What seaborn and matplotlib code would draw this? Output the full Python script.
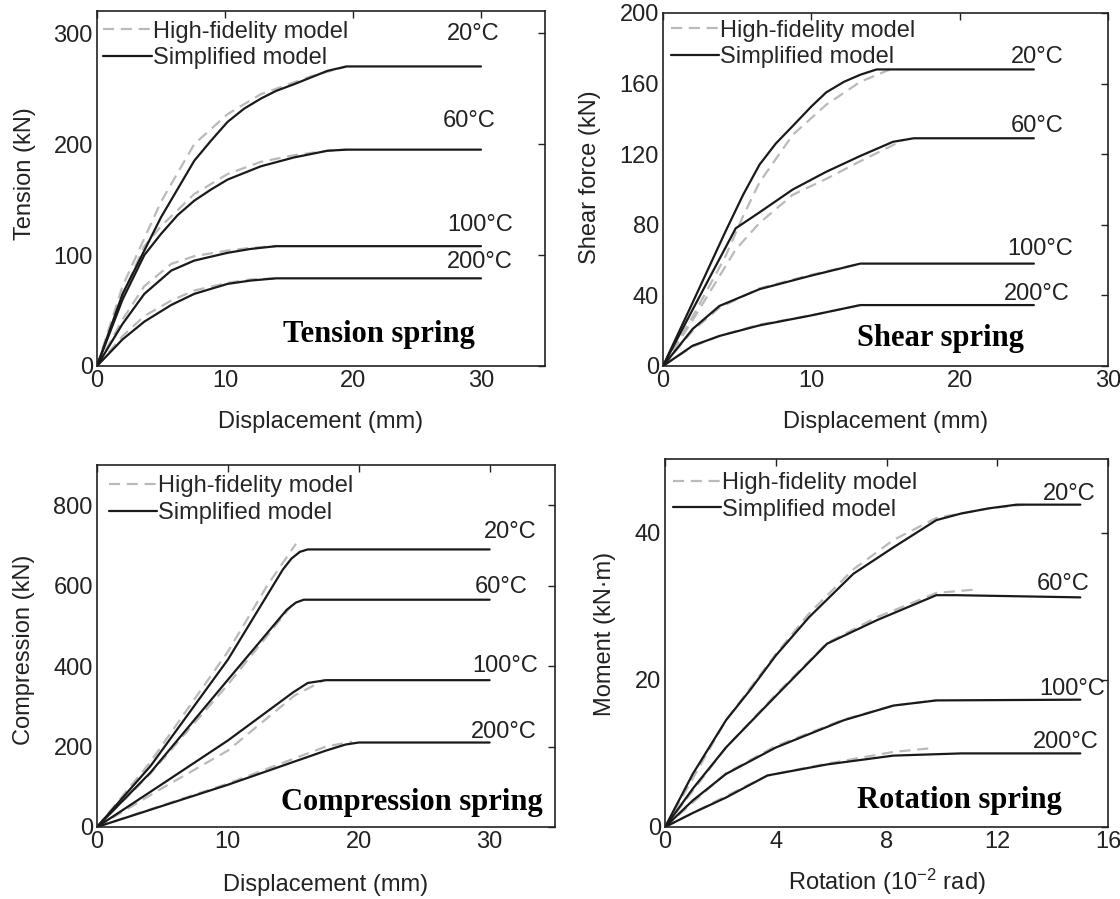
import matplotlib
matplotlib.use("Agg")
import matplotlib.pyplot as plt
from matplotlib.lines import Line2D
import pandas as pd
import seaborn as sns

# ---------------- data ----------------
temps = ["20°C", "60°C", "100°C", "200°C"]

# Tension spring (Displacement mm, Tension kN)
ten_sim_20_x = [0, 2, 5, 7.6, 8.9, 10.2, 11.5, 12.8, 14, 15.4, 16.7, 18, 19.5, 30]
ten_sim_20_y = [0, 65, 134, 185, 203, 220, 232, 241, 248, 254, 260, 266, 270, 270]
ten_hf_20_x = [0, 2, 5, 7.6, 10.2, 12.8, 16.7, 19.5]
ten_hf_20_y = [0, 72, 148, 200, 227, 245, 261, 270]
ten_sim_60_x = [0, 2, 3.7, 5, 6.3, 7.6, 8.9, 10.2, 12.8, 15.4, 18, 19.5, 30]
ten_sim_60_y = [0, 60, 100, 119, 136, 149, 159, 168, 180, 188, 194, 195, 195]
ten_hf_60_x = [0, 2, 3.7, 5, 7.6, 10.2, 12.8, 15.4, 18, 19.5]
ten_hf_60_y = [0, 64, 108, 126, 155, 173, 184, 190, 194, 195]
ten_sim_100_x = [0, 2, 3.7, 5.8, 7.6, 10.2, 12, 14, 30]
ten_sim_100_y = [0, 38, 65, 86, 95, 102, 105.5, 108, 108]
ten_hf_100_x = [0, 2, 3.7, 5.8, 7.6, 10.2, 12, 14]
ten_hf_100_y = [0, 42, 72, 92, 99, 104, 106.5, 108]
ten_sim_200_x = [0, 2, 3.7, 5.8, 7.6, 10.2, 12, 14, 30]
ten_sim_200_y = [0, 24, 40, 55, 65, 74, 77, 79, 79]
ten_hf_200_x = [0, 2, 3.7, 5.8, 7.6, 10.2, 12, 14]
ten_hf_200_y = [0, 27, 45, 59, 68, 75, 78, 79]

# Shear spring (Displacement mm, Shear force kN)
shr_sim_20_x = [0, 2, 4.2, 5.4, 6.5, 7.6, 8.75, 10, 11, 12.2, 13.3, 14.4, 25]
shr_sim_20_y = [0, 36, 76, 97, 114, 126, 136, 147, 155, 161, 165, 168, 168]
shr_hf_20_x = [0, 2, 4.2, 5.4, 6.5, 8.75, 11, 13.3, 15.3]
shr_hf_20_y = [0, 28, 62, 85, 104, 131, 148, 161, 168]
shr_sim_60_x = [0, 2, 4.9, 6.5, 8.75, 11, 13.3, 15.5, 16.9, 25]
shr_sim_60_y = [0, 32, 78, 87, 100, 110, 119, 127, 129, 129]
shr_hf_60_x = [0, 2, 4.9, 6.5, 8.75, 11, 13.3, 16.2]
shr_hf_60_y = [0, 26, 66, 81, 97, 106, 116, 128]
shr_sim_100_x = [0, 2, 3.8, 6.5, 9.9, 13.3, 25]
shr_sim_100_y = [0, 21, 34, 43.5, 51, 58, 58]
shr_hf_100_x = [0, 2, 3.8, 6.5, 9.9, 13.3]
shr_hf_100_y = [0, 20, 33, 44, 51.5, 58]
shr_sim_200_x = [0, 2, 3.8, 6.5, 9.9, 13.3, 25]
shr_sim_200_y = [0, 11.5, 17, 23, 28.5, 34.5, 34.5]
shr_hf_200_x = [0, 2, 3.8, 6.5, 9.9, 13.3]
shr_hf_200_y = [0, 11, 17, 23.5, 28.5, 34.5]

# Compression spring (Displacement mm, Compression kN)
cmp_sim_20_x = [0, 4.1, 10, 14.2, 14.85, 15.5, 16.1, 30]
cmp_sim_20_y = [0, 152, 416, 640, 667, 684, 690, 690]
cmp_hf_20_x = [0, 4, 10, 13, 15.2]
cmp_hf_20_y = [0, 158, 436, 600, 704]
cmp_sim_60_x = [0, 4.1, 10, 14.5, 15.2, 15.8, 30]
cmp_sim_60_y = [0, 136, 366, 540, 558, 565, 565]
cmp_hf_60_x = [0, 4, 10, 15.1]
cmp_hf_60_y = [0, 130, 354, 560]
cmp_sim_100_x = [0, 4.9, 10, 15, 16.1, 17.5, 30]
cmp_sim_100_y = [0, 105, 215, 335, 358, 365, 365]
cmp_hf_100_x = [0, 4.9, 10, 15.1, 17.4]
cmp_hf_100_y = [0, 95, 190, 327, 366]
cmp_sim_200_x = [0, 10, 17.5, 19, 20, 30]
cmp_sim_200_y = [0, 105, 190, 205, 210, 210]
cmp_hf_200_x = [0, 10, 17.5, 19.5]
cmp_hf_200_y = [0, 108, 200, 212]

# Rotation spring (Rotation 1e-2 rad, Moment kN·m)
rot_sim_20_x = [0, 1, 2.2, 3.07, 4, 5.2, 6.8, 8.25, 9.8, 10.7, 11.7, 12.7, 15]
rot_sim_20_y = [0, 7.2, 14.5, 18.6, 23.3, 28.5, 34.4, 38, 41.7, 42.6, 43.3, 43.8, 43.8]
rot_hf_20_x = [0, 2.2, 4, 5.2, 6.8, 8.25, 9.8, 11.7, 13]
rot_hf_20_y = [0, 14.5, 23.5, 29, 35, 39, 42, 43.3, 43.8]
rot_sim_60_x = [0, 1, 2.2, 4, 5.85, 7.65, 9.8, 10.5, 15]
rot_sim_60_y = [0, 5.2, 10.8, 17.8, 24.9, 28.1, 31.5, 31.5, 31.2]
rot_hf_60_x = [0, 2.2, 4, 5.85, 7.65, 9.8, 11.3]
rot_hf_60_y = [0, 10.8, 18, 25, 28.5, 31.8, 32.3]
rot_sim_100_x = [0, 1, 2.2, 4, 6.45, 8.25, 9.8, 15]
rot_sim_100_y = [0, 3.6, 7.2, 10.8, 14.5, 16.5, 17.2, 17.3]
rot_hf_100_x = [0, 2.2, 4, 6.45, 8.25, 9.8]
rot_hf_100_y = [0, 7.3, 11, 14.6, 16.5, 17.2]
rot_sim_200_x = [0, 1, 2.2, 3.7, 5.85, 8.25, 10.7, 15]
rot_sim_200_y = [0, 1.9, 4, 7, 8.5, 9.7, 10, 10]
rot_hf_200_x = [0, 2.2, 3.7, 5.85, 8.25, 9.6]
rot_hf_200_y = [0, 4.2, 7, 8.6, 10.2, 10.7]

# temperature label positions (data coords)
ten_lab_x = [29.4, 29.05, 29.9, 29.9]
ten_lab_y = [299, 221, 127, 94]
shr_lab_x = [25.2, 25.2, 25.4, 25.2]
shr_lab_y = [175, 135.7, 66.2, 40.7]
cmp_lab_x = [31.6, 30.9, 31.2, 31.05]
cmp_lab_y = [733, 597, 399, 235]
rot_lab_x = [14.58, 14.39, 14.71, 14.49]
rot_lab_y = [45.2, 33, 18.7, 11.5]

legend_labels = ["High-fidelity model", "Simplified model"]

# ---------------- style ----------------
sns.set_theme(style="white")
plt.rcParams['font.family'] = ['Liberation Sans', 'DejaVu Sans']
plt.rcParams['mathtext.fontset'] = 'custom'
plt.rcParams['mathtext.rm'] = 'Liberation Sans'
plt.rcParams['mathtext.it'] = 'Liberation Sans:italic'
plt.rcParams['mathtext.bf'] = 'Liberation Sans:bold'

GRAY = "#bababa"
BLACK = "#1a1a1a"
DASH = (0, (5, 3))
FS = 17
TXT = "#222222"

fig = plt.figure(figsize=(11.2, 8.99), dpi=100)


def long_df(xs, ys):
    rows = []
    for t, x, y in zip(temps, xs, ys):
        for xi, yi in zip(x, y):
            rows.append((t, xi, yi))
    return pd.DataFrame(rows, columns=["temp", "x", "y"])


def panel(rect, sim_x, sim_y, hf_x, hf_y, lab_x, lab_y, xlim, ylim, xticks, yticks,
          xlabel, ylabel, title, title_pos, ylab_pos, xlab_y, leg_pos):
    ax = fig.add_axes(rect)
    hf = long_df(hf_x, hf_y)
    sim = long_df(sim_x, sim_y)
    sns.lineplot(data=hf, x="x", y="y", units="temp", estimator=None, sort=False,
                 color=GRAY, lw=1.6, linestyle=DASH, ax=ax, legend=False)
    sns.lineplot(data=sim, x="x", y="y", units="temp", estimator=None, sort=False,
                 color=BLACK, lw=1.6, ax=ax, legend=False)
    ax.set_xlim(*xlim)
    ax.set_ylim(*ylim)
    ax.set_xticks(xticks)
    ax.set_yticks(yticks)
    ax.tick_params(direction="in", length=5, width=1, top=True, right=True,
                   labelsize=FS, pad=3, colors=TXT, labelcolor=TXT)
    for s in ax.spines.values():
        s.set_color(TXT)
        s.set_linewidth(1.2)
    ax.set_xlabel(xlabel, fontsize=FS, color=TXT)
    ax.set_ylabel(ylabel, fontsize=FS, color=TXT)
    ax.xaxis.set_label_coords(0.5, xlab_y)
    ax.xaxis.label.set_va("baseline")
    ax.yaxis.set_label_coords(ylab_pos[0], ylab_pos[1])
    ax.yaxis.label.set_va("center")
    for t, x, y in zip(temps, lab_x, lab_y):
        ax.text(x, y, t, ha="center", va="center", fontsize=FS, color=TXT)
    ax.text(title_pos[0], title_pos[1], title, transform=ax.transAxes, ha="right",
            va="baseline", fontsize=22, fontweight="bold", family="Liberation Serif",
            color="black")
    handles = [Line2D([], [], color=GRAY, lw=1.6, linestyle=DASH),
               Line2D([], [], color=BLACK, lw=1.6)]
    ax.legend(handles, legend_labels, loc="upper left", bbox_to_anchor=leg_pos,
              frameon=False, fontsize=FS, handlelength=2.05, handletextpad=0.05,
              borderaxespad=0, borderpad=0, labelspacing=0.19)
    return ax


panel([0.0866, 0.5929, 0.400, 0.3949],
      [ten_sim_20_x, ten_sim_60_x, ten_sim_100_x, ten_sim_200_x],
      [ten_sim_20_y, ten_sim_60_y, ten_sim_100_y, ten_sim_200_y],
      [ten_hf_20_x, ten_hf_60_x, ten_hf_100_x, ten_hf_200_x],
      [ten_hf_20_y, ten_hf_60_y, ten_hf_100_y, ten_hf_200_y],
      ten_lab_x, ten_lab_y, (0, 35), (0, 320), [0, 10, 20, 30], [0, 100, 200, 300],
      "Displacement (mm)", "Tension (kN)", "Tension spring", (0.844, 0.068),
      (-0.161, 0.542), -0.176, (0.0144, 0.973))

panel([0.592, 0.5929, 0.3973, 0.3927],
      [shr_sim_20_x, shr_sim_60_x, shr_sim_100_x, shr_sim_200_x],
      [shr_sim_20_y, shr_sim_60_y, shr_sim_100_y, shr_sim_200_y],
      [shr_hf_20_x, shr_hf_60_x, shr_hf_100_x, shr_hf_200_x],
      [shr_hf_20_y, shr_hf_60_y, shr_hf_100_y, shr_hf_200_y],
      shr_lab_x, shr_lab_y, (0, 30), (0, 200), [0, 10, 20, 30], [0, 40, 80, 120, 160, 200],
      "Displacement (mm)", "Shear force (kN)", "Shear spring", (0.811, 0.057),
      (-0.165, 0.535), -0.176, (0.0177, 0.981))

panel([0.0866, 0.0801, 0.409, 0.4027],
      [cmp_sim_20_x, cmp_sim_60_x, cmp_sim_100_x, cmp_sim_200_x],
      [cmp_sim_20_y, cmp_sim_60_y, cmp_sim_100_y, cmp_sim_200_y],
      [cmp_hf_20_x, cmp_hf_60_x, cmp_hf_100_x, cmp_hf_200_x],
      [cmp_hf_20_y, cmp_hf_60_y, cmp_hf_100_y, cmp_hf_200_y],
      cmp_lab_x, cmp_lab_y, (0, 35), (0, 900), [0, 10, 20, 30], [0, 200, 400, 600, 800],
      "Displacement (mm)", "Compression (kN)", "Compression spring", (0.973, 0.046),
      (-0.16, 0.489), -0.178, (0.026, 0.971))

panel([0.5938, 0.0801, 0.3955, 0.4093],
      [rot_sim_20_x, rot_sim_60_x, rot_sim_100_x, rot_sim_200_x],
      [rot_sim_20_y, rot_sim_60_y, rot_sim_100_y, rot_sim_200_y],
      [rot_hf_20_x, rot_hf_60_x, rot_hf_100_x, rot_hf_200_x],
      [rot_hf_20_y, rot_hf_60_y, rot_hf_100_y, rot_hf_200_y],
      rot_lab_x, rot_lab_y, (0, 16), (0, 50), [0, 4, 8, 12, 16], [0, 20, 40],
      "Rotation (10$^{-2}$ rad)", "Moment (kN·m)", "Rotation spring", (0.895, 0.0526),
      (-0.135, 0.524), -0.172, (0.0177, 0.964))

fig.savefig("out.png", dpi=100)
